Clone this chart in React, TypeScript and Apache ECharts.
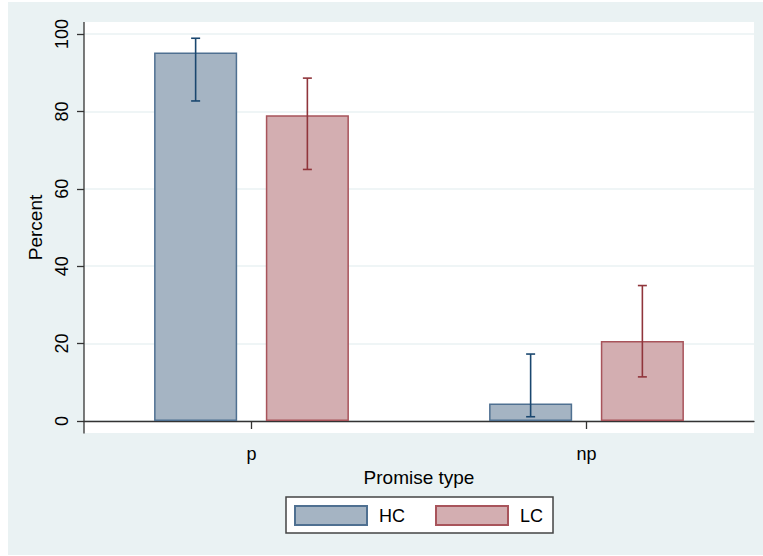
import React, { useEffect, useRef } from "react";
import * as echarts from "echarts";

const categories = ["p", "np"];
const seriesNames = ["HC", "LC"];
const hcValues = [95.2, 4.5];
const lcValues = [79.0, 20.7];
const hcLow = [82.7, 1.1];
const hcHigh = [98.9, 17.3];
const lcLow = [65.0, 11.4];
const lcHigh = [88.6, 35.0];
const yTicks = [0, 20, 40, 60, 80, 100];

const FONT = "'Liberation Sans', Arial, sans-serif";
const BAR_W = 0.248;
const BAR_GAP = 0.345;

const colors = {
  hcFill: "#a5b4c3",
  hcBorder: "#4f7091",
  hcErr: "#1a476f",
  lcFill: "#d3aeb1",
  lcBorder: "#a8545b",
  lcErr: "#90353b",
  bg: "#eaf2f3",
};

function errSeries(name: string, lows: number[], highs: number[], color: string, side: number) {
  return {
    type: "custom",
    name: name + "_err",
    z: 5,
    data: lows.map((l, i) => [i, l, highs[i]]),
    renderItem: (params: any, api: any) => {
      const idx = api.value(0);
      const band = api.size([1, 0])[0];
      const off = side * (band * BAR_W * (1 + BAR_GAP)) / 2;
      const lo = api.coord([idx, api.value(1)]);
      const hi = api.coord([idx, api.value(2)]);
      const x = lo[0] + off;
      const cap = 4.5;
      const style = { stroke: color, lineWidth: 1.6, fill: "none" };
      return {
        type: "group",
        children: [
          { type: "line", shape: { x1: x, y1: lo[1], x2: x, y2: hi[1] }, style },
          { type: "line", shape: { x1: x - cap, y1: lo[1], x2: x + cap, y2: lo[1] }, style },
          { type: "line", shape: { x1: x - cap, y1: hi[1], x2: x + cap, y2: hi[1] }, style },
        ],
      };
    },
    silent: true,
  };
}

export default function App() {
  const ref = useRef<HTMLDivElement>(null);
  useEffect(() => {
    document.body.style.margin = "0";
    const chart = echarts.init(ref.current!, null, { renderer: "svg" });
    chart.setOption({
      animation: false,
      textStyle: { fontFamily: FONT },
      graphic: [
        { type: "rect", z: -20, silent: true, shape: { x: 8, y: 2, width: 755, height: 553 }, style: { fill: colors.bg } },
        { type: "rect", z: -10, silent: true, shape: { x: 84, y: 22, width: 670, height: 411 }, style: { fill: "#ffffff" } },
        { type: "line", z: 10, silent: true, shape: { x1: 84, y1: 22, x2: 84, y2: 433.5 }, style: { stroke: "#333333", lineWidth: 1.3 } },
      ],
      grid: { left: 84, right: 9, top: 34, bottom: 135 },
      legend: {
        data: seriesNames,
        left: 286,
        top: 497,
        padding: [8, 10, 7, 8],
        itemGap: 30,
        itemWidth: 72,
        itemHeight: 19,
        icon: "rect",
        backgroundColor: "#ffffff",
        borderColor: "#444444",
        borderWidth: 1.5,
        borderRadius: 0,
        textStyle: { fontSize: 18, color: "#000", fontFamily: FONT, padding: [0, 0, 0, 7] },
      },
      xAxis: {
        type: "category",
        data: categories,
        offset: 12,
        name: "Promise type",
        nameLocation: "middle",
        nameGap: 32,
        nameTextStyle: { fontSize: 19, color: "#000", fontFamily: FONT },
        axisLine: { show: true, lineStyle: { color: "#333333", width: 1.3 } },
        axisTick: { show: true, alignWithLabel: true, length: 8, lineStyle: { color: "#333333", width: 1.3 } },
        axisLabel: { fontSize: 18, color: "#000", margin: 12, fontFamily: FONT },
        splitLine: { show: false },
      },
      yAxis: {
        type: "value",
        min: yTicks[0],
        max: yTicks[yTicks.length - 1],
        interval: yTicks[1] - yTicks[0],
        name: "Percent",
        nameLocation: "middle",
        nameGap: 33,
        nameTextStyle: { fontSize: 19, color: "#000", fontFamily: FONT },
        axisLine: { show: false },
        axisTick: { show: true, length: 7, lineStyle: { color: "#333333", width: 1.3 } },
        axisLabel: { fontSize: 18, color: "#000", rotate: 90, margin: 13, fontFamily: FONT },
        splitLine: { show: true, lineStyle: { color: colors.bg, width: 1.6 } },
      },
      series: [
        {
          type: "bar",
          name: seriesNames[0],
          data: hcValues,
          barWidth: BAR_W * 100 + "%",
          barGap: BAR_GAP * 100 + "%",
          itemStyle: { color: colors.hcFill, borderColor: colors.hcBorder, borderWidth: 1.5 },
        },
        {
          type: "bar",
          name: seriesNames[1],
          data: lcValues,
          barWidth: BAR_W * 100 + "%",
          barGap: BAR_GAP * 100 + "%",
          itemStyle: { color: colors.lcFill, borderColor: colors.lcBorder, borderWidth: 1.5 },
        },
        errSeries(seriesNames[0], hcLow, hcHigh, colors.hcErr, -1),
        errSeries(seriesNames[1], lcLow, lcHigh, colors.lcErr, 1),
      ],
    });
    return () => chart.dispose();
  }, []);
  return <div ref={ref} style={{ width: 763, height: 556 }} />;
}
